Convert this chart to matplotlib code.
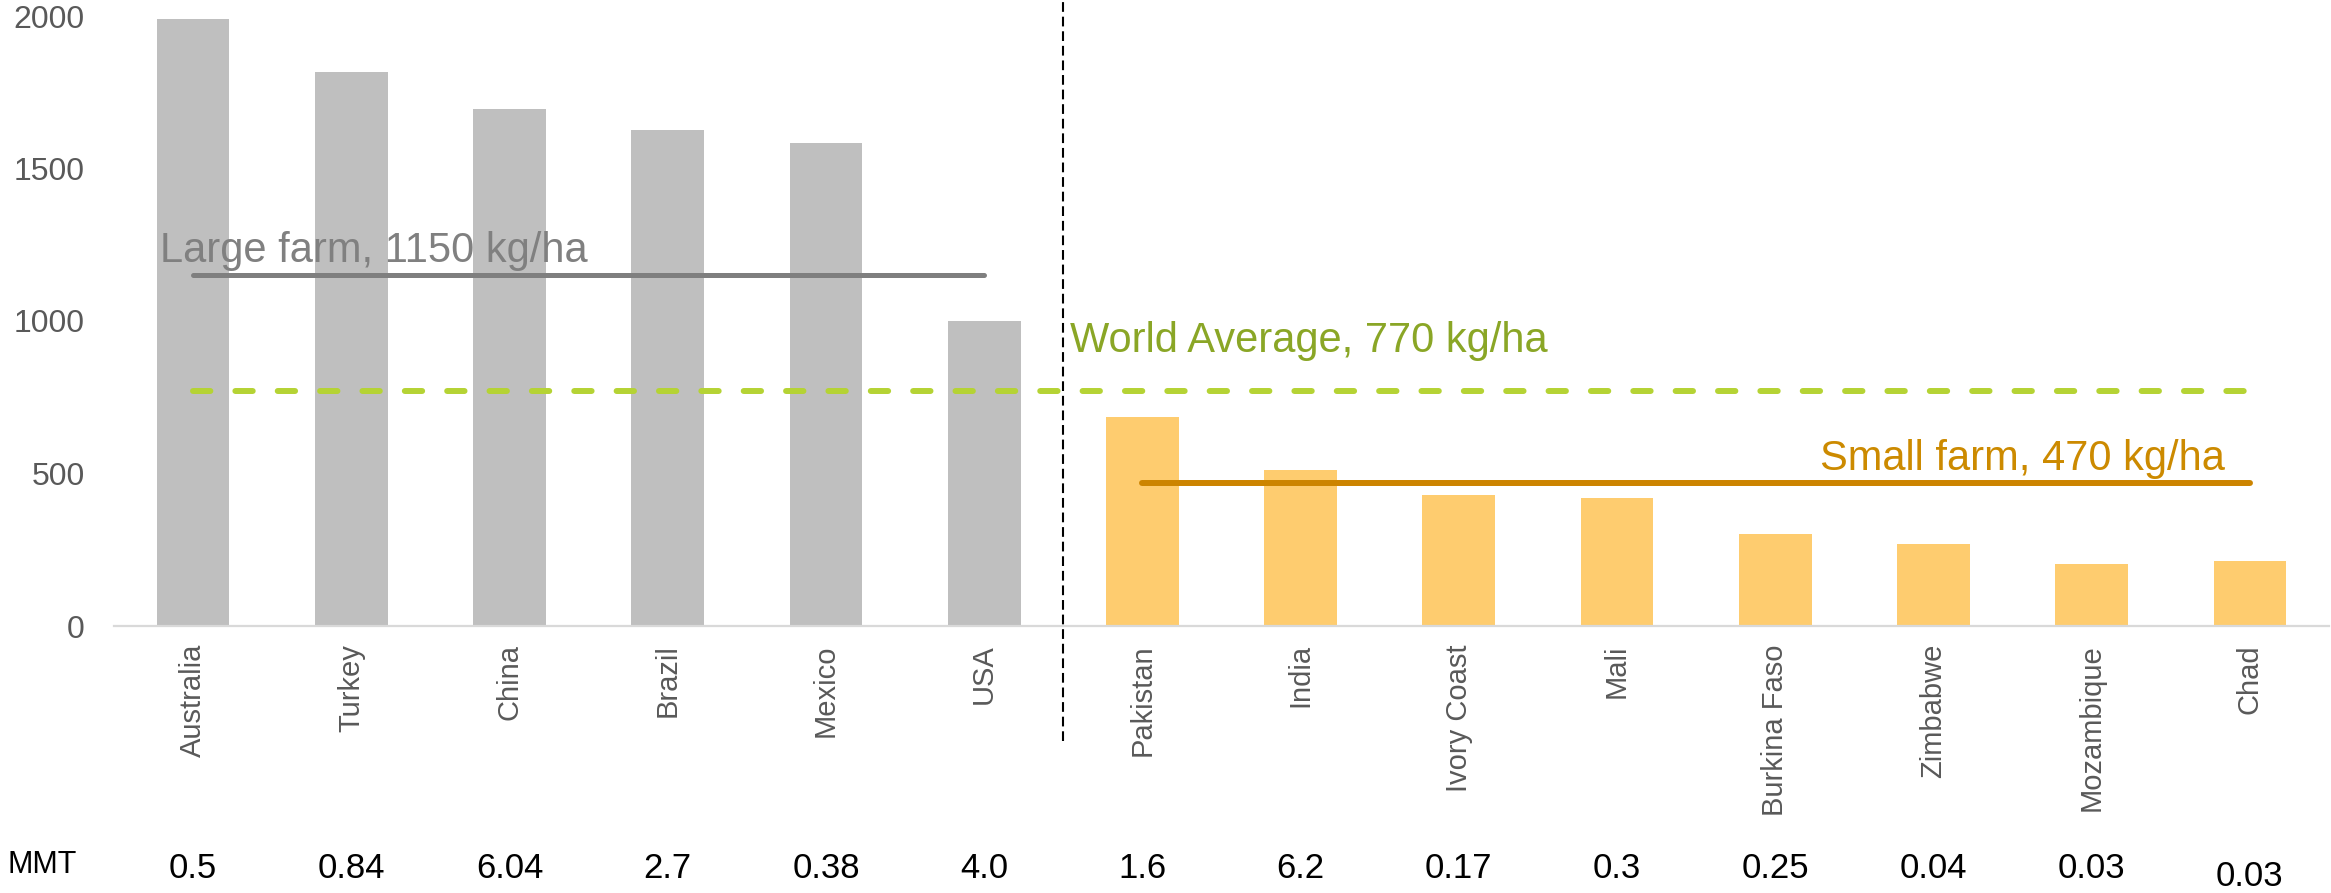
import matplotlib
matplotlib.use("Agg")
import matplotlib.pyplot as plt
import matplotlib.transforms as mtransforms

# yield by country, kg/ha
countries = ["Australia", "Turkey", "China", "Brazil", "Mexico", "USA",
             "Pakistan", "India", "Ivory Coast", "Mali", "Burkina Faso",
             "Zimbabwe", "Mozambique", "Chad"]
yields = [1990, 1815, 1695, 1625, 1582, 1000,
          684, 510, 431, 421, 303, 270, 204, 214]
mmt = ["0.5", "0.84", "6.04", "2.7", "0.38", "4.0",
       "1.6", "6.2", "0.17", "0.3", "0.25", "0.04", "0.03", "0.03"]
n_large = 6  # first six are large-farm countries

large_avg = 1150
world_avg = 770
small_avg = 470

plt.rcParams['font.family'] = ['Liberation Sans', 'DejaVu Sans']
plt.rcParams['lines.scale_dashes'] = False

fig = plt.figure(figsize=(23.31, 8.93), dpi=100)
ax = fig.add_axes([114 / 2331, 1 - 626 / 893, (2329 - 114) / 2331, (626 - 16) / 893])

x = list(range(len(countries)))
colors = ["#bfbfbf"] * n_large + ["#fecc6f"] * (len(countries) - n_large)
ax.bar(x, yields, width=0.46, color=colors, linewidth=0, zorder=2)

ax.set_xlim(-0.5, len(countries) - 0.5)
ax.set_ylim(0, 2000)
ax.set_yticks([0, 500, 1000, 1500, 2000])
ax.set_xticks(x)
ax.set_xticklabels(countries, rotation=90, va="top", ha="center")
ax.tick_params(axis="x", length=0, pad=13, labelsize=21, labelcolor="#595959")
ax.tick_params(axis="y", length=0, pad=21, labelsize=23, labelcolor="#595959")

for side in ["top", "right", "left"]:
    ax.spines[side].set_visible(False)
ax.spines["bottom"].set_color("#d9d9d9")
ax.spines["bottom"].set_linewidth(1.6)
ax.spines["bottom"].set_zorder(3)

# reference lines
ax.plot([0, n_large - 1], [large_avg, large_avg], color="#7f7f7f", lw=3.6,
        solid_capstyle="round", zorder=4)
ax.plot([0, len(countries) - 1], [world_avg, world_avg], color="#b5d334", lw=4.3,
        dashes=(12.5, 18), dash_capstyle="round", zorder=4)
ax.plot([n_large, len(countries) - 1], [small_avg, small_avg], color="#cc8400", lw=4.3,
        solid_capstyle="round", zorder=4)

ax.text(-0.21, 1194, "Large farm, 1150 kg/ha", color="#808080", fontsize=30,
        va="baseline", ha="left", zorder=5)
ax.text(5.54, 898, "World Average, 770 kg/ha", color="#8aa626", fontsize=30,
        va="baseline", ha="left", zorder=5)
ax.text(10.28, 510, "Small farm, 470 kg/ha", color="#cc8a00", fontsize=30,
        va="baseline", ha="left", zorder=5)

# divider between large and small farm countries
trans = mtransforms.blended_transform_factory(ax.transData, ax.transAxes)
ax.plot([n_large - 0.5, n_large - 0.5], [-0.188, 1.03], transform=trans,
        color="black", lw=1.5, dashes=(7, 3.5), clip_on=False, zorder=6)

# MMT row
for i, label in enumerate(mmt):
    yy = -0.398 if i < len(mmt) - 1 else -0.41
    ax.text(i, yy, label, transform=trans, ha="center", va="center",
            fontsize=25, color="black")
fig.text(8 / 2331, 1 - 865 / 893, "MMT", ha="left", va="center",
         fontsize=22, color="black")

fig.savefig("out.png", dpi=100)
